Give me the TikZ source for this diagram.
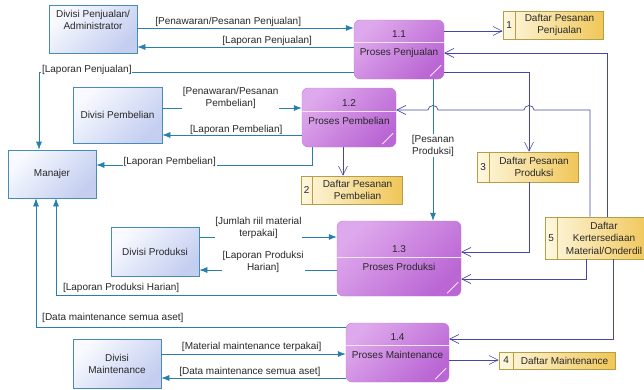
\documentclass[tikz,border=0pt]{standalone}
\usepackage{fontspec}
\setmainfont{Liberation Sans}
\usetikzlibrary{arrows.meta,calc}

\definecolor{tealline}{RGB}{40,128,170}
\definecolor{dsline}{RGB}{70,70,165}
\definecolor{entborder}{RGB}{70,140,180}
\definecolor{entlight}{RGB}{248,250,255}
\definecolor{entdark}{RGB}{196,206,240}
\definecolor{proclight}{RGB}{222,168,236}
\definecolor{procdark}{RGB}{186,102,212}
\definecolor{procborder}{RGB}{190,125,215}
\definecolor{storelight}{RGB}{254,248,224}
\definecolor{storedark}{RGB}{240,198,88}
\definecolor{storeborder}{RGB}{180,158,70}
\definecolor{txt}{RGB}{40,40,40}

\begin{document}
\begin{tikzpicture}[x=1pt, y=-1pt,
    font=\fontsize{10}{12}\selectfont, text=txt,
    entity/.style={rectangle, draw=entborder, line width=0.7pt, top color=entlight, bottom color=entdark, shading angle=45, align=center},
    proses/.style={rectangle, rounded corners=6pt, draw=procborder, top color=proclight, bottom color=procdark, shading angle=45},
    store/.style={rectangle, draw=storeborder, line width=0.6pt, left color=storelight, right color=storedark},
    divider/.style={draw=white!80!procborder, line width=0.7pt},
    flow/.style={draw=tealline, line width=0.7pt, -{Latex[length=8pt,width=6pt]}},
    dflow/.style={draw=dsline, line width=0.7pt, -{Straight Barb[length=9pt,width=9pt,line width=0.6pt]}},
    lbl/.style={fill=white, inner sep=0.8pt, align=center}
]
    \useasboundingbox (0,0) rectangle (644,389);
    \clip (0,0) rectangle (644,389);

    % Entitas
    \node[entity, minimum width=88pt, minimum height=48pt,
          label={[align=center, yshift=9pt]center:{Divisi Penjualan/\\Administrator}}] (dpj) at (93,29) {};
    \node[entity, minimum width=89pt, minimum height=56pt] (dpb) at (117.5,115) {Divisi Pembelian};
    \node[entity, minimum width=88pt, minimum height=48pt] (man) at (52,174) {Manajer};
    \node[entity, minimum width=88pt, minimum height=49pt] (dpr) at (155,251.5) {Divisi Produksi};
    \node[entity, minimum width=88pt, minimum height=49pt] (dmt) at (117,363.5) {Divisi\\Maintenance};

    % Proses
    \node[proses, minimum width=90pt, minimum height=59pt] (p11) at (399,49.5) {};
    \node[proses, minimum width=94pt, minimum height=59pt] (p12) at (349,117.5) {};
    \node[proses, minimum width=124pt, minimum height=75pt] (p13) at (399,258.5) {};
    \node[proses, minimum width=103pt, minimum height=59pt] (p14) at (397.5,352.5) {};

    \foreach \p/\d/\num/\name in {p11/23/1.1/Proses Penjualan, p12/24/1.2/Proses Pembelian,
                                 p13/37/1.3/Proses Produksi, p14/23/1.4/Proses Maintenance} {
        \draw[divider] ([yshift=-\d pt]\p.north west) -- ([yshift=-\d pt]\p.north east);
        \node[above=2pt] at ([yshift=-\d pt]\p.north) {\num};
        \node[below=2pt] at ([yshift=-\d pt]\p.north) {\name};
        \draw[white, line width=0.6pt] ([shift={(-3pt,14pt)}]\p.south east) -- ([shift={(-14pt,3pt)}]\p.south east);
    }

    % Data store
    \node[store, minimum width=100pt, minimum height=28pt] (ds1) at (553,25) {};
    \node[store, minimum width=101pt, minimum height=28pt] (ds2) at (351.5,190) {};
    \node[store, minimum width=101pt, minimum height=30pt] (ds3) at (527.5,167) {};
    \node[store, minimum width=116pt, minimum height=17pt] (ds4) at (557,360.5) {};
    \node[store, minimum width=105pt, minimum height=42pt] (ds5) at (597.5,238) {};

    \foreach \s/\w/\num/\name in {ds1/13/1/{Daftar Pesanan\\Penjualan}, ds2/12/2/{Daftar Pesanan\\Pembelian},
                                 ds3/13/3/{Daftar Pesanan\\Produksi}, ds4/15/4/{Daftar Maintenance},
                                 ds5/13/5/{Daftar\\Kertersediaan\\Material/Onderdil}} {
        \draw[storeborder, line width=0.6pt] ([xshift=\w pt]\s.north west) -- ([xshift=\w pt]\s.south west);
        \node at ([xshift=\w pt/2]\s.west) {\num};
        \node[align=center, font=\fontsize{10}{12.5}\selectfont] at ([xshift=\w pt/2]\s.center) {\name};
    }

    % Aliran data entitas
    \draw[flow] (dpj.east |- 0,28) -- node[lbl, pos=0.42, yshift=6pt] {[Penawaran/Pesanan Penjualan]} (p11.west |- 0,28);
    \draw[flow] (p11.west |- 0,47) -- node[lbl, pos=0.40, yshift=6pt] {[Laporan Penjualan]} (dpj.east |- 0,47);
    \draw[flow] (p11.west |- 0,72) -| node[lbl, pos=0.424, yshift=2pt] {[Laporan Penjualan]} ($(man.north)+(-13,0)$);

    \draw[flow] (dpb.east |- 0,108) -- node[lbl, pos=0.49, yshift=10pt] {[Penawaran/Pesanan\\Pembelian]} (p12.west |- 0,108);
    \draw[flow] (p12.west |- 0,135) -- node[lbl, pos=0.47, yshift=5pt] {[Laporan Pembelian]} (dpb.east |- 0,135);
    \draw[flow] ($(p12.south)+(-37,0)$) |- node[lbl, pos=0.83, yshift=3pt] {[Laporan Pembelian]} (man.east |- 0,165);

    \draw[flow] ($(p11.south)+(34,0)$) -- node[lbl, pos=0.47] {[Pesanan\\Produksi]} ($(p13.north)+(34,0)$);

    \draw[flow] (dpr.east |- 0,237) -- node[lbl, pos=0.43, yshift=9pt] {[Jumlah riil material\\terpakai]} (p13.west |- 0,237);
    \draw[flow] (p13.west |- 0,270) -- node[lbl, pos=0.536, yshift=8pt] {[Laporan Produksi\\Harian]} (dpr.east |- 0,270);
    \draw[flow] (p13.west |- 0,295) -| node[lbl, pos=0.384, yshift=7pt] {[Laporan Produksi Harian]} ($(man.south)+(4,0)$);
    \draw[flow] (p14.west |- 0,327) -| node[lbl, pos=0.376, yshift=9pt] {[Data maintenance semua aset]} ($(man.south)+(-16,0)$);

    \draw[flow] (dmt.east |- 0,354) -- node[lbl, pos=0.49, yshift=7pt] {[Material maintenance terpakai]} (p14.west |- 0,354);
    \draw[flow] (p14.west |- 0,378) -- node[lbl, pos=0.52, yshift=6pt] {[Data maintenance semua aset]} (dmt.east |- 0,378);

    % Aliran data store
    \draw[dflow] (p11.east |- 0,31) -- (ds1.west |- 0,31);
    \draw[dflow] ($(ds5.north)+(9.5,0)$) |- (p11.east |- 0,53);
    \draw[dflow] ($(ds5.north)+(-7.5,0)$) |- (534,110)
        arc[start angle=0, end angle=180, x radius=5pt, y radius=4.5pt] -- (438,110)
        arc[start angle=0, end angle=180, x radius=5pt, y radius=4.5pt] -- (p12.east |- 0,110);
    \draw[dflow] (p11.east |- 0,72) -| ($(ds3.north)+(1.5,0)$);
    \draw[dflow] ($(p12.south)+(-6,0)$) -- ($(ds2.north)+(-8.5,0)$);
    \draw[dflow] ($(ds3.south)+(1.5,0)$) |- (p13.east |- 0,252);
    \draw[dflow] ($(ds5.south)+(-11.5,0)$) |- (p13.east |- 0,279);
    \draw[dflow] ($(ds5.south)+(15.5,0)$) |- (p14.east |- 0,339);
    \draw[dflow] (p14.east |- 0,360) -- (ds4.west |- 0,360);
\end{tikzpicture}
\end{document}
